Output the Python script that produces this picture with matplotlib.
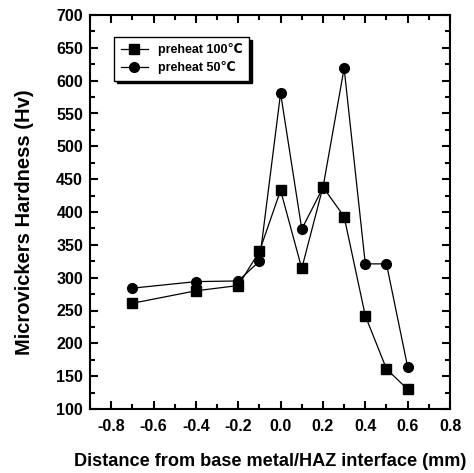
import numpy as np
import matplotlib
matplotlib.use("Agg")
import matplotlib.pyplot as plt
from matplotlib.ticker import MultipleLocator

plt.rcParams["font.family"] = ["Liberation Sans", "DejaVu Sans"]
plt.rcParams["font.weight"] = "bold"

distance = [-0.7, -0.4, -0.2, -0.1, 0.0, 0.1, 0.2, 0.3, 0.4, 0.5, 0.6]
hv_100 = [261, 280, 288, 340, 433, 314, 438, 393, 242, 161, 130]
hv_50 = [284, 294, 295, 325, 581, 374, 437, 619, 321, 321, 164]

fig = plt.figure(figsize=(4.74, 4.73), dpi=100)
ax = fig.add_axes([90 / 474, 1 - 409 / 473, 360 / 474, 394 / 473])

ax.plot(distance, hv_100, color="black", lw=0.9, marker="s", ms=6.5,
        label="preheat 100\u2103")
ax.plot(distance, hv_50, color="black", lw=0.9, marker="o", ms=7,
        label="preheat 50\u2103")

ax.set_xlim(-0.9, 0.8)
ax.set_ylim(100, 700)
ax.xaxis.set_minor_locator(MultipleLocator(0.1))
ax.yaxis.set_major_locator(MultipleLocator(50))
ax.yaxis.set_minor_locator(MultipleLocator(25))
ax.tick_params(which="both", direction="in", top=True, right=True, width=1.5,
               labelsize=11.5)
ax.tick_params(which="major", length=6)
ax.tick_params(which="minor", length=3.5)
ax.tick_params(axis="x", which="major", pad=7)
ax.tick_params(axis="y", which="major", pad=5)
xticks = [-0.8, -0.6, -0.4, -0.2, 0.0, 0.2, 0.4, 0.6, 0.8]
ax.set_xticks(xticks)
ax.set_xticklabels([f"{v:.1f}" for v in xticks])
for s in ax.spines.values():
    s.set_linewidth(1.5)

ax.set_xlabel("Distance from base metal/HAZ interface (mm)", fontsize=13.1,
              fontweight="bold", labelpad=14)
ax.set_ylabel("Microvickers Hardness (Hv)", fontsize=14.5, fontweight="bold")
ax.yaxis.set_label_coords(-0.155, 0.475)

leg = ax.legend(loc="upper left", bbox_to_anchor=(0.05, 0.96), fontsize=9,
                frameon=True, fancybox=False, shadow={"color": "black", "alpha": 1},
                edgecolor="black", handlelength=2.2, borderpad=0.5,
                labelspacing=0.4)
leg.get_frame().set_linewidth(1.0)

fig.savefig("out.png", dpi=100)
